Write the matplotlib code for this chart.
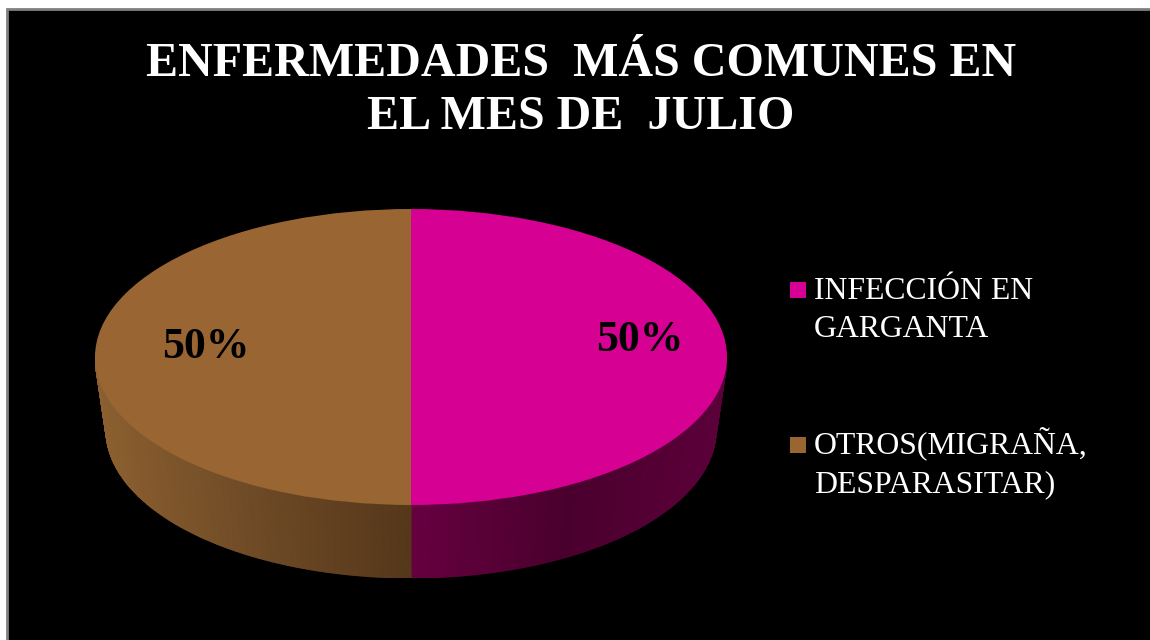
import numpy as np
import matplotlib
matplotlib.use("Agg")
import matplotlib.pyplot as plt
from matplotlib.patches import Rectangle
from matplotlib.colors import LinearSegmentedColormap

plt.rcParams['font.family'] = ['Liberation Serif', 'DejaVu Serif']

# Datos
titulo = "ENFERMEDADES  MÁS COMUNES EN\nEL MES DE  JULIO"
categorias = ["INFECCIÓN EN\nGARGANTA", "OTROS(MIGRAÑA,\nDESPARASITAR)"]
valores = [50, 50]
colores = ["#D60093", "#996633"]
# wall shade at the left edge, centre and right edge of each slice
sombras = [["#660040", "#4A002E", "#5C003A"], ["#8C6030", "#6E4A26", "#55371A"]]

W, H = 1150, 640
# pie geometry in pixels
cx, cy, rx, ry = 411, 357, 316, 148
rx_base, alto = 305, 73


def fx(x):
    return x / W


def fy(y):
    return 1 - y / H


fig = plt.figure(figsize=(W / 100, H / 100), dpi=100, facecolor="white")

# black panel with a thin grey border, running off the right and bottom edges
fig.add_artist(Rectangle((fx(7), -0.02), 1, fy(9) + 0.02, transform=fig.transFigure,
                         facecolor="black", edgecolor="#808080", linewidth=2, zorder=-1))

fig.text(fx(581), fy(129), titulo, color="white", fontsize=34.6, fontweight="bold",
         ha="center", va="baseline", linespacing=1.27, multialignment="center")

# axes: one unit is one radius of the top ellipse
ax = fig.add_axes([fx(cx - rx), fy(cy + ry + alto), 2 * rx / W, (2 * ry + alto) / H])
ax.set_facecolor("none")
d = alto / ry
k = rx_base / rx

# side wall as a smooth mesh, only where it faces the viewer
angulos = np.cumsum([0] + valores) / sum(valores) * 360
for i in range(len(valores)):
    ini = 90 - angulos[i + 1]
    fin = 90 - angulos[i]
    t = np.radians(np.arange(ini, fin + 0.5, 0.5))
    t = t[np.sin(t) <= 0.001]
    t = t[np.argsort(np.cos(t))]
    X = np.array([np.cos(t), k * np.cos(t)])
    Y = np.array([np.sin(t), np.sin(t) - d])
    C = np.array([np.cos(t), np.cos(t)])
    cmap = LinearSegmentedColormap.from_list("pared%d" % i, sombras[i])
    ax.pcolormesh(X, Y, C, shading="gouraud", cmap=cmap, zorder=1,
                  vmin=np.cos(t).min(), vmax=np.cos(t).max())

# top face
ax.pie(valores, colors=colores, startangle=90, counterclock=False, radius=1,
       wedgeprops={"linewidth": 0})
ax.set_aspect("auto")
ax.set_xlim(-1, 1)
ax.set_ylim(-1 - d, 1)
ax.axis("off")
for w in ax.patches:
    w.set_zorder(2)

# percentage labels
etiquetas_x = [639.5, 206]
etiquetas_y = [351, 358]
for v, x, y in zip(valores, etiquetas_x, etiquetas_y):
    fig.text(fx(x), fy(y), "%d%%" % v, color="black", fontsize=31.5, fontweight="bold",
             ha="center", va="baseline", zorder=5)

# legend
legend_y = [337, 492]
for nombre, color, y in zip(categorias, colores, legend_y):
    fig.add_artist(Rectangle((fx(790), fy(y - 39)), 16 / W, 16 / H,
                             transform=fig.transFigure, facecolor=color, edgecolor="none"))
    fig.text(fx(814), fy(y), nombre, color="white", fontsize=22.9, ha="left",
             va="baseline", linespacing=1.4)

fig.savefig("out.png", dpi=100, facecolor="white")
